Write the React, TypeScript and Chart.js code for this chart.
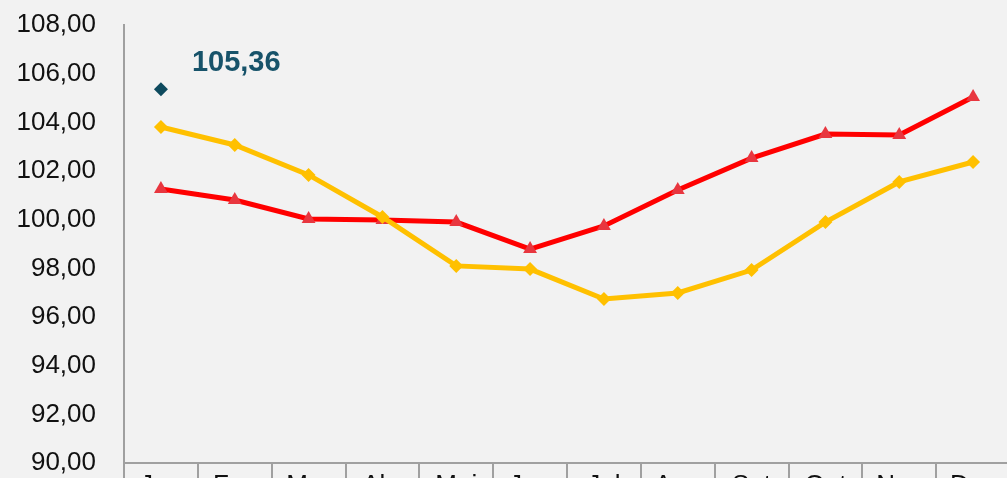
import React, { useEffect, useRef } from "react";
import { Chart, registerables } from "chart.js";

Chart.register(...registerables);

const months = ["Jan", "Fev", "Mar", "Abr", "Mai", "Jun", "Jul", "Ago", "Set", "Out", "Nov", "Dez"];
const seriesYellow = [103.81, 103.07, 101.84, 100.11, 98.1, 97.97, 96.74, 96.99, 97.93, 99.9, 101.55, 102.37];
const seriesRed = [101.26, 100.81, 100.03, 99.99, 99.9, 98.79, 99.74, 101.22, 102.53, 103.52, 103.48, 105.04];
const highlight = [105.36, null, null, null, null, null, null, null, null, null, null, null];
const highlightLabel = "105,36";
const yMin = 90;
const yMax = 108;
const yStep = 2;

const FONT = "'Liberation Sans Narrow', 'Arial Narrow', 'Liberation Sans', Arial, sans-serif";

const pointLabelPlugin = {
  id: "pointLabel",
  afterDatasetsDraw(chart: any) {
    const meta = chart.getDatasetMeta(2);
    const idx = highlight.findIndex((v) => v !== null);
    const el = meta.data[idx];
    if (!el) return;
    const ctx = chart.ctx;
    ctx.save();
    ctx.font = `bold 29px ${FONT}`;
    ctx.fillStyle = "#17536A";
    ctx.textAlign = "left";
    ctx.textBaseline = "middle";
    ctx.fillText(highlightLabel, el.x + 31, el.y - 26);
    ctx.restore();
  },
};

export default function App() {
  const ref = useRef<HTMLCanvasElement | null>(null);

  useEffect(() => {
    document.body.style.overflow = "hidden";
    document.body.style.background = "#F2F2F2";
    const chart = new Chart(ref.current as HTMLCanvasElement, {
      type: "line",
      data: {
        labels: months,
        datasets: [
          {
            label: "Série 1",
            data: seriesRed,
            borderColor: "#FF0000",
            backgroundColor: "#E8363F",
            borderWidth: 5,
            pointStyle: "triangle",
            pointRadius: 8,
            pointBorderWidth: 0,
            pointBackgroundColor: "#E8363F",
            order: 2,
          },
          {
            label: "Série 2",
            data: seriesYellow,
            borderColor: "#FFC000",
            backgroundColor: "#FFC000",
            borderWidth: 5,
            pointStyle: "rectRot",
            pointRadius: 7,
            pointBorderWidth: 0,
            pointBackgroundColor: "#FFC000",
            order: 1,
          },
          {
            label: "Destaque",
            data: highlight,
            showLine: false,
            borderColor: "#0E4A5E",
            backgroundColor: "#0E4A5E",
            pointStyle: "rectRot",
            pointRadius: 7,
            pointBorderWidth: 0,
            pointBackgroundColor: "#0E4A5E",
            order: 0,
          },
        ],
      },
      options: {
        animation: false,
        responsive: false,
        maintainAspectRatio: false,
        layout: { padding: { top: 25, right: 2, left: 0, bottom: 0 } },
        plugins: {
          legend: { display: false },
          tooltip: { enabled: false },
          title: { display: false },
        },
        scales: {
          x: {
            offset: true,
            grid: {
              display: true,
              offset: true,
              drawOnChartArea: false,
              drawTicks: true,
              tickLength: 40,
              color: "#A0A0A0",
              lineWidth: 2,
            },
            border: { display: true, color: "#A0A0A0", width: 2 },
            ticks: {
              padding: -33,
              maxRotation: 0,
              autoSkip: false,
              color: "#111111",
              font: { family: FONT, size: 26 },
            },
            afterFit(scale: any) {
              scale.height = 50;
              scale.paddingLeft = 0;
              scale.paddingRight = 0;
            },
          },
          y: {
            min: yMin,
            max: yMax,
            grid: { display: false, drawTicks: false },
            border: { display: true, color: "#A0A0A0", width: 2 },
            ticks: {
              stepSize: yStep,
              padding: 28,
              color: "#111111",
              font: { family: FONT, size: 26 },
              callback: (v: any) => Number(v).toFixed(2).replace(".", ","),
            },
            afterFit(scale: any) {
              scale.width = 124;
              scale.paddingTop = 0;
              scale.paddingBottom = 0;
            },
          },
        },
      },
      plugins: [pointLabelPlugin],
    });
    return () => chart.destroy();
  }, []);

  return (
    <div
      style={{
        position: "fixed",
        left: 0,
        top: 0,
        width: 1018,
        height: 513,
        background: "#F2F2F2",
      }}
    >
      <canvas ref={ref} width={1018} height={513} style={{ display: "block" }} />
    </div>
  );
}
